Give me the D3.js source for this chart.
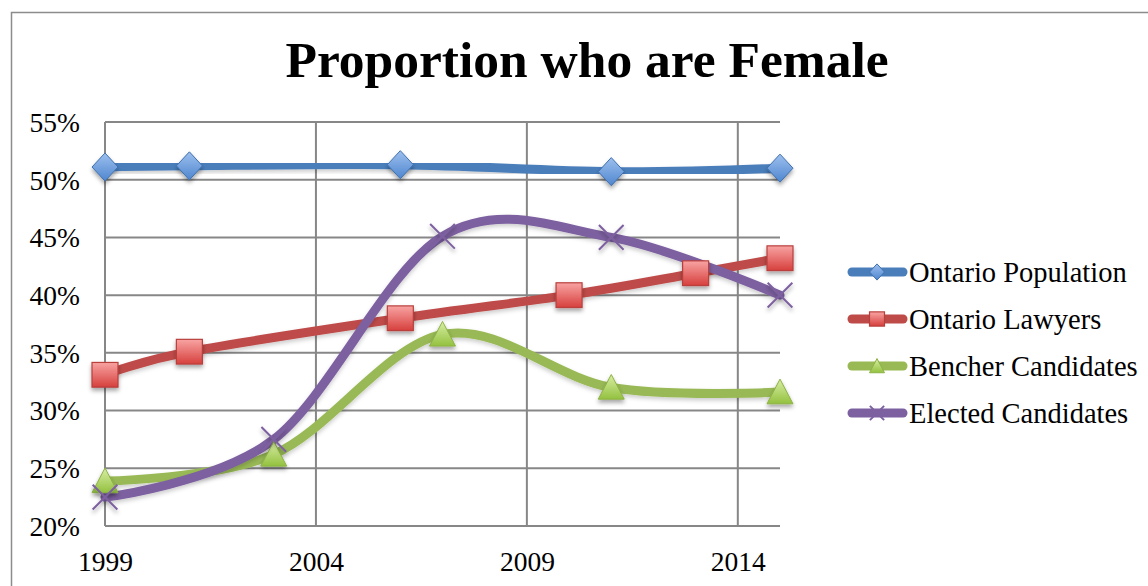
<!DOCTYPE html>
<html>
<head>
<meta charset="utf-8">
<script src="https://cdn.jsdelivr.net/npm/d3@7"></script>
<style>
  html, body { margin: 0; padding: 0; background: #fff; }
  svg { display: block; }
</style>
</head>
<body>
<svg id="chart" width="1148" height="586"></svg>
<script>
// ---- data ----
const chartTitle = "Proportion who are Female";
const seriesNames = ["Ontario Population", "Ontario Lawyers", "Bencher Candidates", "Elected Candidates"];
const populationYears = [1999, 2001, 2006, 2011, 2015];
const populationValues = [51.1, 51.2, 51.3, 50.7, 51.0];
const lawyerYears = [1999, 2001, 2006, 2010, 2013, 2015];
const lawyerValues = [33.1, 35.1, 38.0, 40.0, 41.9, 43.2];
const bencherYears = [1999, 2003, 2007, 2011, 2015];
const bencherValues = [23.9, 26.2, 36.6, 32.0, 31.6];
const electedYears = [1999, 2003, 2007, 2011, 2015];
const electedValues = [22.5, 27.5, 45.1, 45.0, 40.0];
const yTickValues = [20, 25, 30, 35, 40, 45, 50, 55];
const xTickValues = [1999, 2004, 2009, 2014];

// ---- layout ----
const svg = d3.select("#chart");
const W = 1148, H = 586;
const plot = { left: 105, right: 780, top: 122, bottom: 526 };
const x = d3.scaleLinear().domain([1999, 2015]).range([plot.left, plot.right]);
const y = d3.scaleLinear().domain([20, 55]).range([plot.bottom, plot.top]);
const serif = "'Liberation Serif', 'DejaVu Serif', serif";
const gridColor = "#878787";

const defs = svg.append("defs");
const shadow = defs.append("filter").attr("id", "shadow")
  .attr("x", "-50%").attr("y", "-50%").attr("width", "200%").attr("height", "200%");
shadow.append("feDropShadow").attr("dx", 0).attr("dy", 3).attr("stdDeviation", 2.2)
  .attr("flood-color", "#000").attr("flood-opacity", 0.35);
const lshadow = defs.append("filter").attr("id", "lshadow")
  .attr("x", "-10%").attr("y", "-10%").attr("width", "120%").attr("height", "130%");
lshadow.append("feDropShadow").attr("dx", 0).attr("dy", 2.5).attr("stdDeviation", 2)
  .attr("flood-color", "#000").attr("flood-opacity", 0.2);

function grad(id, top, bottom) {
  const g = defs.append("linearGradient").attr("id", id)
    .attr("x1", 0).attr("y1", 0).attr("x2", 0).attr("y2", 1);
  g.append("stop").attr("offset", "0%").attr("stop-color", top);
  g.append("stop").attr("offset", "100%").attr("stop-color", bottom);
}
grad("gBlue", "#9DC0EE", "#4F86CF");
grad("gRed", "#F8A4A3", "#D6403D");
grad("gGreen", "#D9EEA5", "#93C13F");

const series = [
  { name: seriesNames[0], years: populationYears, values: populationValues, color: "#4A7EBB", marker: "diamond", fill: "url(#gBlue)", stroke: "#3F70AE" },
  { name: seriesNames[1], years: lawyerYears, values: lawyerValues, color: "#BE4B48", marker: "square", fill: "url(#gRed)", stroke: "#B93F3C" },
  { name: seriesNames[2], years: bencherYears, values: bencherValues, color: "#98B954", marker: "triangle", fill: "url(#gGreen)", stroke: "#8DB245" },
  { name: seriesNames[3], years: electedYears, values: electedValues, color: "#7D60A0", marker: "x", fill: "none", stroke: "#7D60A0" }
];

// ---- outer border ----
svg.append("path")
  .attr("d", `M11.5,${H} L11.5,12.5 L${W},12.5`)
  .attr("fill", "none").attr("stroke", "#8c8c8c").attr("stroke-width", 1.5);

// ---- title ----
svg.append("text")
  .attr("x", 587).attr("y", 77)
  .attr("text-anchor", "middle")
  .attr("font-family", serif).attr("font-weight", "bold").attr("font-size", 51.5)
  .attr("fill", "#000")
  .text(chartTitle);

// ---- grid ----
const grid = svg.append("g");
grid.selectAll("line.h").data(yTickValues).join("line")
  .attr("x1", plot.left).attr("x2", plot.right)
  .attr("y1", d => y(d)).attr("y2", d => y(d))
  .attr("stroke", gridColor).attr("stroke-width", 2);
grid.selectAll("line.v").data(xTickValues).join("line")
  .attr("x1", d => x(d)).attr("x2", d => x(d))
  .attr("y1", plot.top).attr("y2", plot.bottom)
  .attr("stroke", gridColor).attr("stroke-width", 2);

// ---- axes (labels via d3 axis) ----
const yAxis = d3.axisLeft(y).tickValues(yTickValues).tickFormat(d => d + "%").tickSize(0).tickPadding(25);
const gy = svg.append("g").attr("transform", `translate(${plot.left},0)`).call(yAxis);
gy.select(".domain").remove();
gy.selectAll("text").attr("font-family", serif).attr("font-size", 27.5).attr("fill", "#000").attr("dy", "0.34em");

const xAxis = d3.axisBottom(x).tickValues(xTickValues).tickFormat(d3.format("d")).tickSize(0).tickPadding(25);
const gx = svg.append("g").attr("transform", `translate(0,${plot.bottom})`).call(xAxis);
gx.select(".domain").remove();
gx.selectAll("text").attr("font-family", serif).attr("font-size", 27.5).attr("fill", "#000");

// ---- lines ----
const line = d3.line().curve(d3.curveCardinal.tension(0));
const lines = svg.append("g");
series.forEach(s => {
  const pts = s.years.map((yr, i) => [x(yr), y(s.values[i])]);
  lines.append("path")
    .attr("d", line(pts))
    .attr("fill", "none").attr("stroke", s.color).attr("stroke-width", 9)
    .attr("stroke-linecap", "round").attr("stroke-linejoin", "round")
    .attr("filter", "url(#lshadow)");
});

// ---- markers ----
function drawMarker(g, type, cx, cy, size, s) {
  const h = size / 2;
  if (type === "diamond") {
    g.append("path").attr("d", `M${cx},${cy - h * 1.08} L${cx + h},${cy} L${cx},${cy + h * 1.08} L${cx - h},${cy} Z`)
      .attr("fill", s.fill).attr("stroke", s.stroke).attr("stroke-width", 1).attr("filter", "url(#shadow)");
  } else if (type === "square") {
    g.append("rect").attr("x", cx - h).attr("y", cy - h * 0.95).attr("width", size).attr("height", size * 0.95)
      .attr("fill", s.fill).attr("stroke", s.stroke).attr("stroke-width", 1.2).attr("filter", "url(#shadow)");
  } else if (type === "triangle") {
    g.append("path").attr("d", `M${cx},${cy - h} L${cx + h},${cy + h * 0.9} L${cx - h},${cy + h * 0.9} Z`)
      .attr("fill", s.fill).attr("stroke", s.stroke).attr("stroke-width", 1).attr("filter", "url(#shadow)");
  } else if (type === "x") {
    const k = h * 0.95;
    g.append("path").attr("d", `M${cx - k},${cy - k} L${cx + k},${cy + k} M${cx - k},${cy + k} L${cx + k},${cy - k}`)
      .attr("fill", "none").attr("stroke", s.stroke).attr("stroke-width", 2).attr("filter", "url(#shadow)");
  }
}
const markers = svg.append("g");
series.forEach(s => {
  s.years.forEach((yr, i) => drawMarker(markers, s.marker, x(yr), y(s.values[i]), 26, s));
});

// ---- legend ----
const legend = svg.append("g");
const legendY = [272, 319, 366, 413];
series.forEach((s, i) => {
  const ly = legendY[i];
  legend.append("line").attr("x1", 852).attr("x2", 903).attr("y1", ly).attr("y2", ly)
    .attr("stroke", s.color).attr("stroke-width", 9).attr("stroke-linecap", "round");
  drawMarker(legend, s.marker, 877, ly, 15, s);
  legend.append("text").attr("x", 909).attr("y", ly).attr("dy", "0.34em")
    .attr("font-family", serif).attr("font-size", 28.5).attr("fill", "#000")
    .text(s.name);
});
legend.selectAll("[filter]").attr("filter", null);
</script>
</body>
</html>
